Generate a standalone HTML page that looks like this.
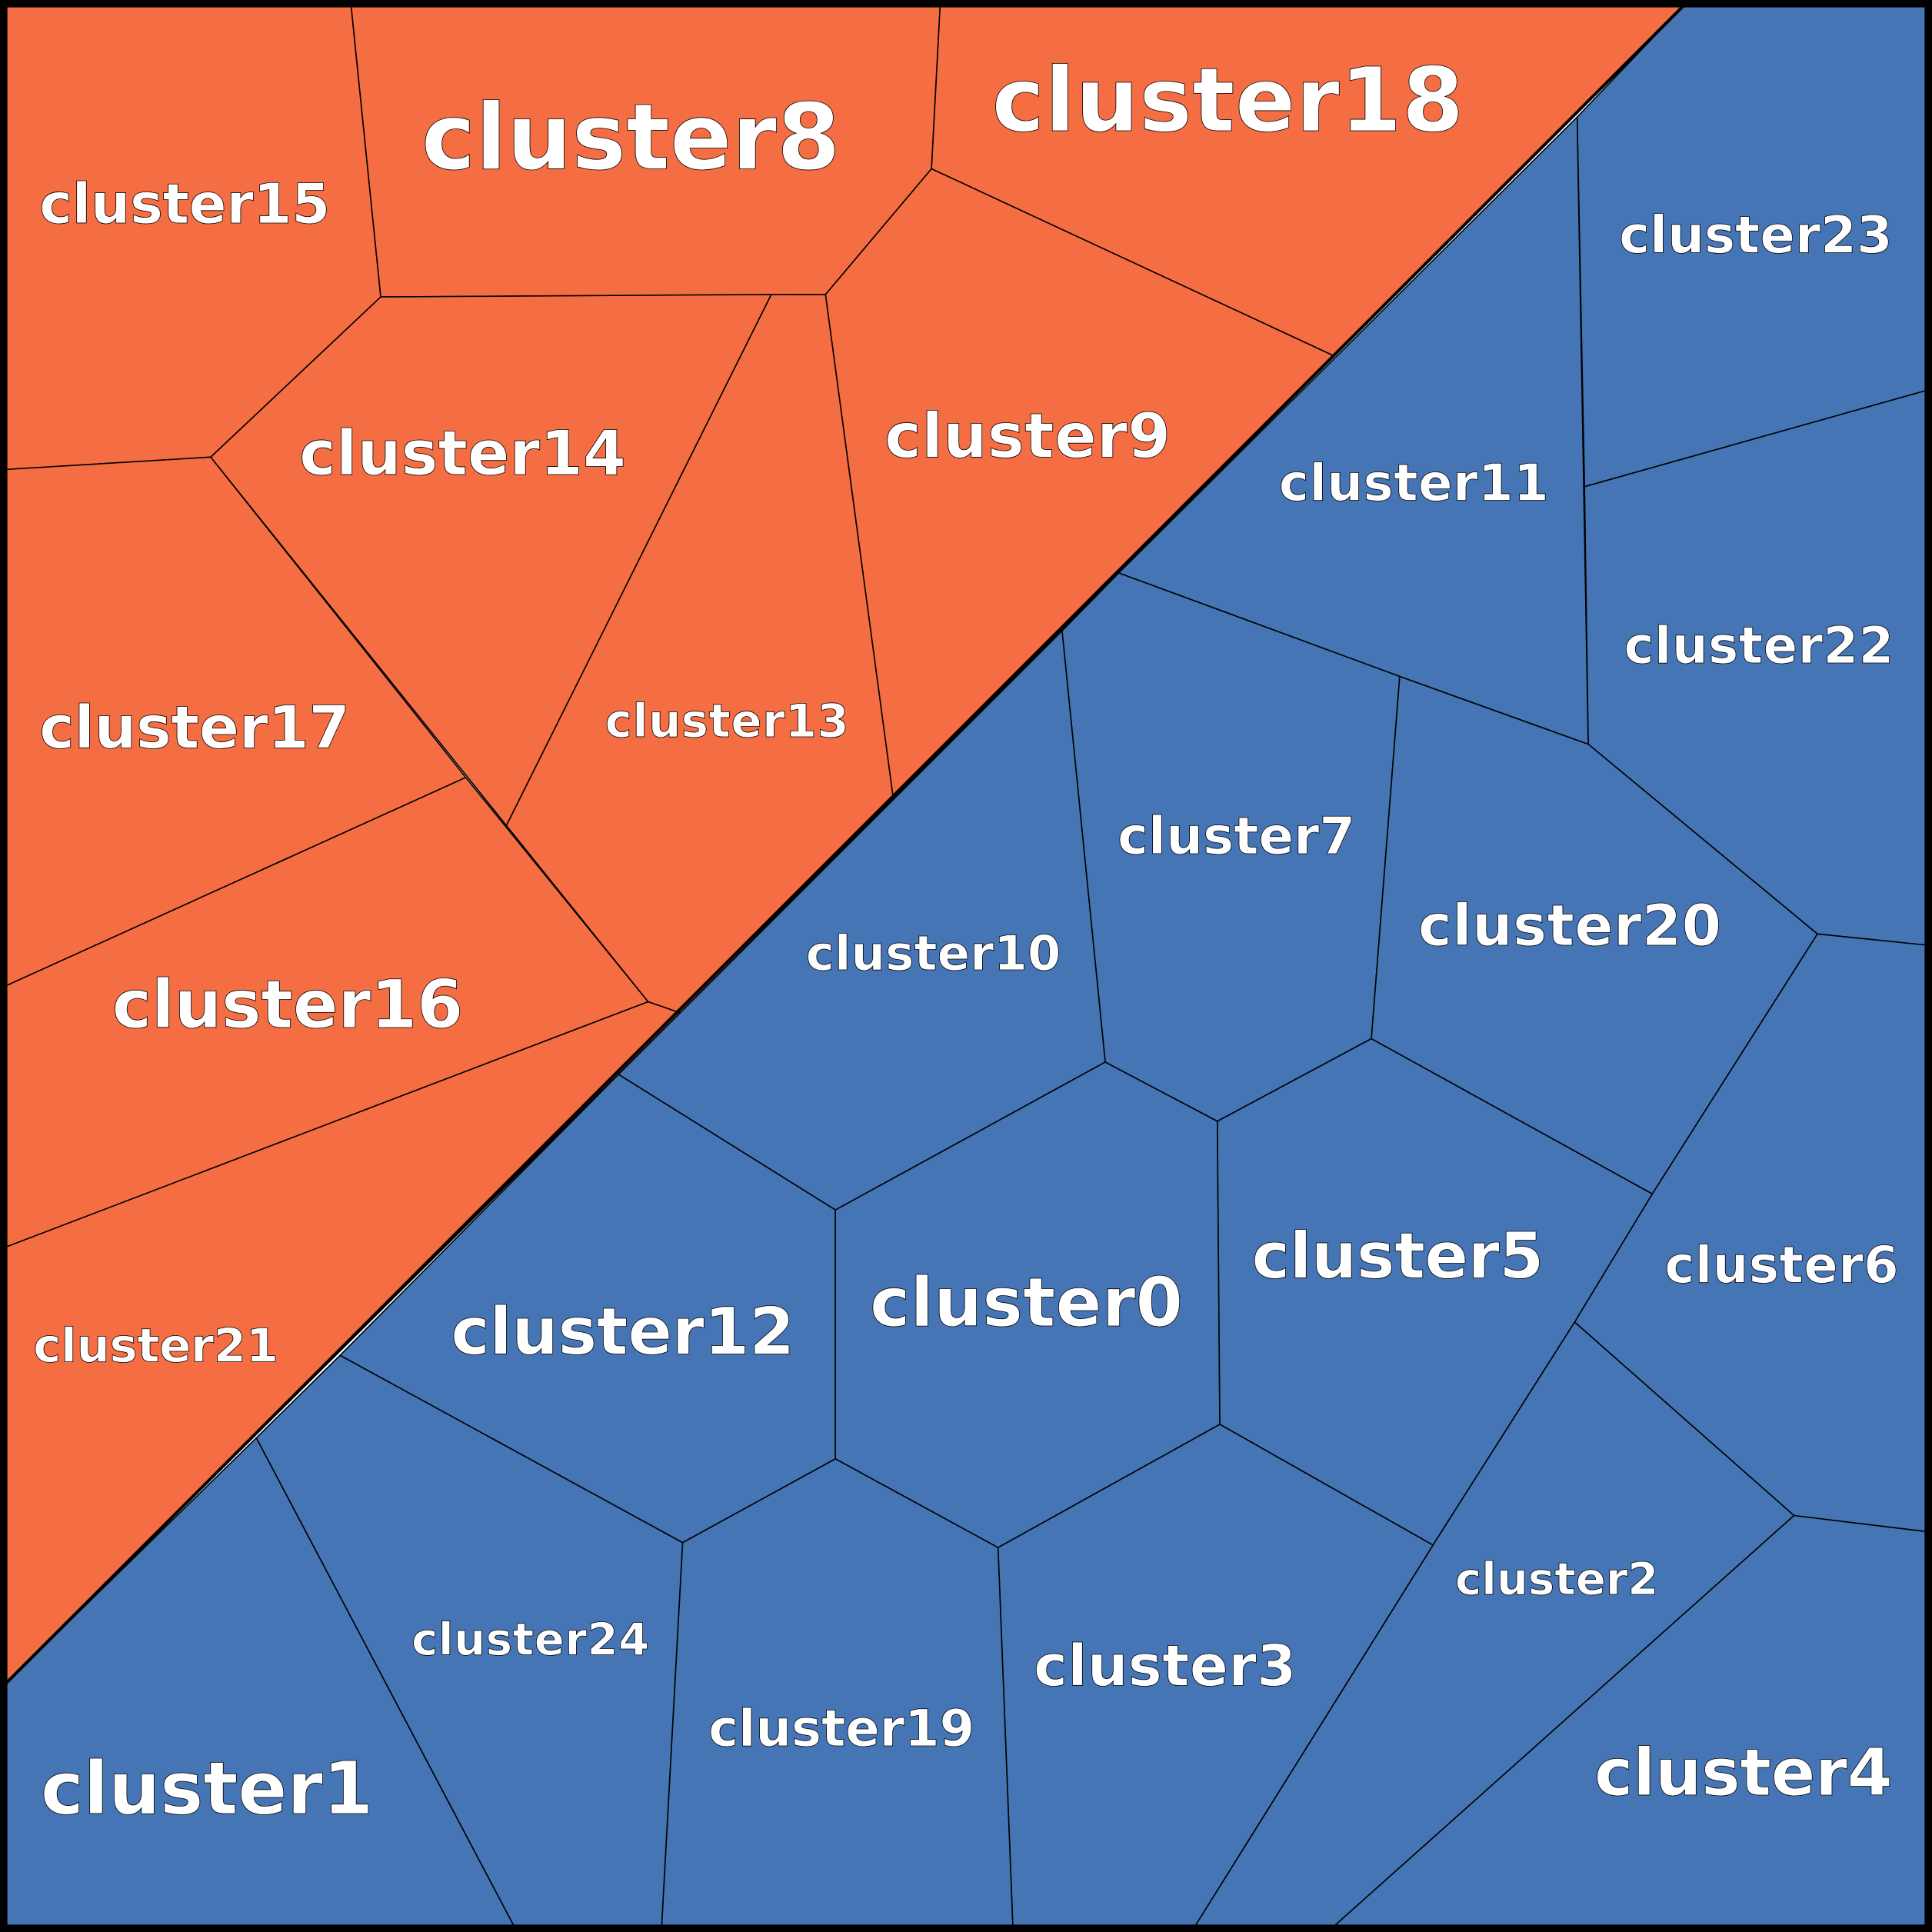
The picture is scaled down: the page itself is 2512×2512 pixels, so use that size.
<!DOCTYPE html>
<html><head><meta charset="utf-8"><style>html,body{margin:0;padding:0;background:#fff}svg{display:block}</style></head><body>
<svg xmlns="http://www.w3.org/2000/svg" width="2512" height="2512" viewBox="0 0 1568 1568">
<g stroke="#000" stroke-width="1" stroke-linejoin="round">
<g fill="#F46D43">
<polygon points="5,5 285,5 309,241 171,371 5,381"/>
<polygon points="285,5 763,5 756,137 670,239 309,241"/>
<polygon points="763,5 1366,5 1083,289 756,137"/>
<polygon points="309,241 626,239 411,670 171,371"/>
<polygon points="626,239 670,239 725,648 552,822 526,813 411,670"/>
<polygon points="670,239 756,137 1083,289 725,648"/>
<polygon points="5,381 171,371 378,631 5,800"/>
<polygon points="5,800 378,631 526,813 5,1012"/>
<polygon points="5,1012 526,813 552,822 5,1366"/>
</g>
<g fill="#4575B4">
<polygon points="1366,5 1563,5 1563,317 1286,395 1280,95"/>
<polygon points="1286,395 1563,317 1563,767 1475,758 1289,604"/>
<polygon points="1280,95 1289,604 1136,549 908,465"/>
<polygon points="908,465 1136,549 1113,843 988,910 897,862 862,512"/>
<polygon points="1136,549 1289,604 1475,758 1341,969 1113,843"/>
<polygon points="862,512 897,862 678,982 502,872"/>
<polygon points="502,872 678,982 678,1184 554,1252 276,1100"/>
<polygon points="678,982 897,862 988,910 990,1156 810,1256 678,1184"/>
<polygon points="988,910 1113,843 1341,969 1278,1073 1163,1254 990,1156"/>
<polygon points="1475,758 1563,767 1563,1243 1456,1230 1278,1073 1341,969"/>
<polygon points="1278,1073 1456,1230 1083,1563 970,1563 1163,1254"/>
<polygon points="1456,1230 1563,1243 1563,1563 1083,1563"/>
<polygon points="810,1256 990,1156 1163,1254 970,1563 822,1563"/>
<polygon points="554,1252 678,1184 810,1256 822,1563 537,1563"/>
<polygon points="208,1167 276,1100 554,1252 537,1563 417,1563"/>
<polygon points="5,1366 208,1167 417,1563 5,1563"/>
</g>
</g>
<line x1="1366" y1="5" x2="5" y2="1366" stroke="#000" stroke-width="2.5"/>
<rect x="3" y="3" width="1562" height="1562" fill="none" stroke="#000" stroke-width="6"/>
<g font-family="DejaVu Sans, sans-serif" font-weight="bold" fill="#fff" stroke="#000" stroke-width="0.5" lengthAdjust="spacingAndGlyphs">
<text x="342" y="137" font-size="74" textLength="340">cluster8</text>
<text x="805" y="106" font-size="72" textLength="383">cluster18</text>
<text x="32" y="181" font-size="45" textLength="236">cluster15</text>
<text x="243" y="385" font-size="50" textLength="265">cluster14</text>
<text x="718" y="371" font-size="50" textLength="232">cluster9</text>
<text x="491" y="598" font-size="37" textLength="198">cluster13</text>
<text x="32" y="607" font-size="48" textLength="252">cluster17</text>
<text x="91" y="834" font-size="54" textLength="285">cluster16</text>
<text x="27" y="1105" font-size="38" textLength="199">cluster21</text>
<text x="1314" y="205" font-size="42" textLength="222">cluster23</text>
<text x="1038" y="406" font-size="41" textLength="219">cluster11</text>
<text x="1318" y="538" font-size="41" textLength="219">cluster22</text>
<text x="907" y="693" font-size="42" textLength="193">cluster7</text>
<text x="1151" y="767" font-size="46" textLength="246">cluster20</text>
<text x="654" y="787" font-size="39" textLength="207">cluster10</text>
<text x="1016" y="1037" font-size="52" textLength="237">cluster5</text>
<text x="1351" y="1041" font-size="41" textLength="190">cluster6</text>
<text x="706" y="1076" font-size="55" textLength="254">cluster0</text>
<text x="366" y="1099" font-size="53" textLength="279">cluster12</text>
<text x="1181" y="1294" font-size="36" textLength="165">cluster2</text>
<text x="334" y="1343" font-size="36" textLength="193">cluster24</text>
<text x="839" y="1368" font-size="46" textLength="213">cluster3</text>
<text x="575" y="1417" font-size="41" textLength="216">cluster19</text>
<text x="1294" y="1457" font-size="53" textLength="242">cluster4</text>
<text x="33" y="1472" font-size="59" textLength="270">cluster1</text>
</g>
</svg>
</body></html>
